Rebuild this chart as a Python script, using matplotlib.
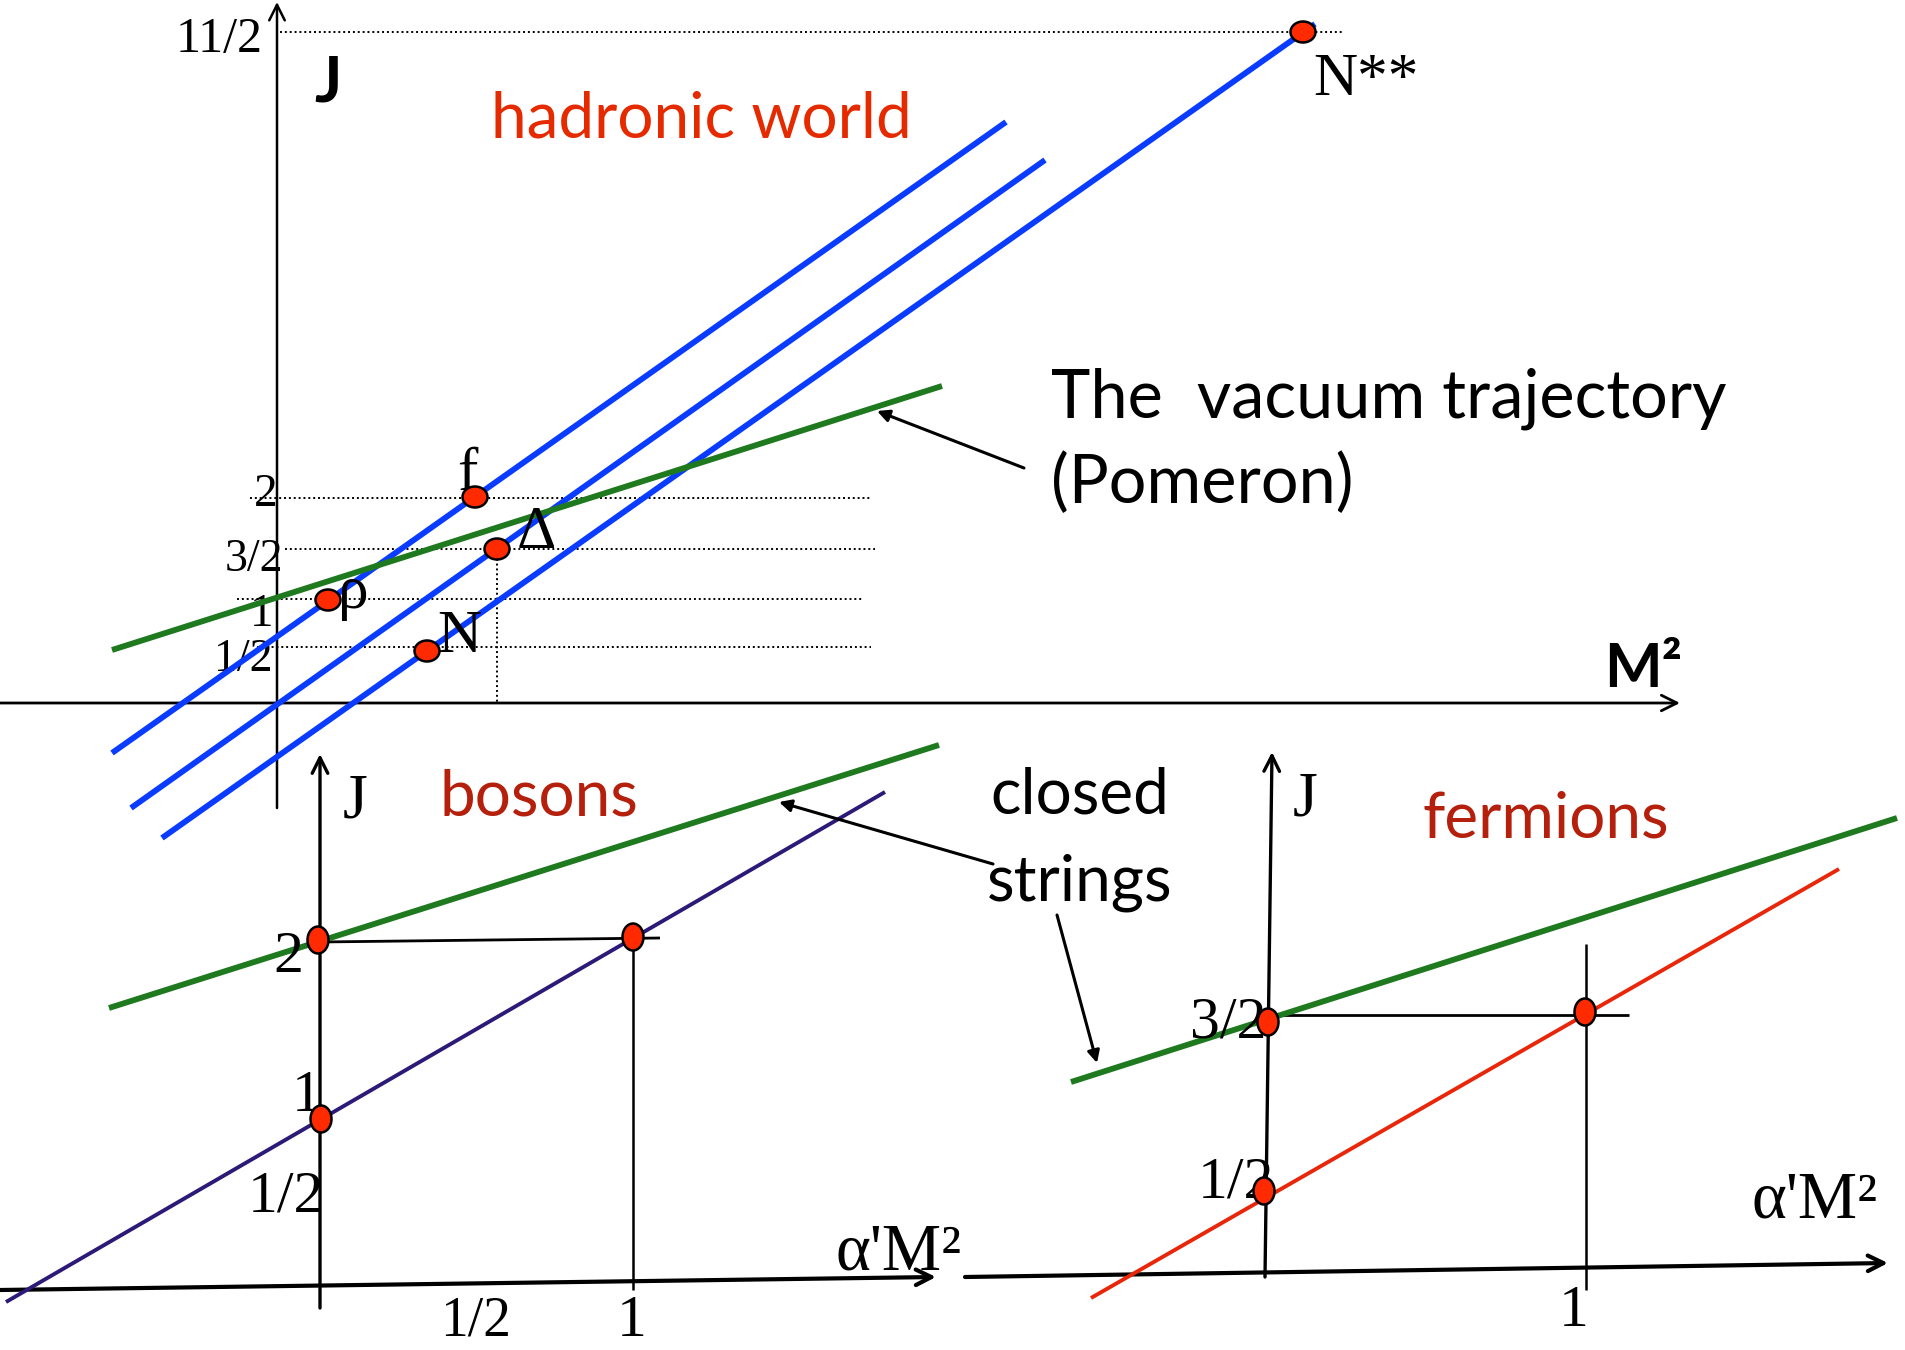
import matplotlib.pyplot as plt
from matplotlib.patches import Ellipse

SERIF = ['Liberation Serif', 'DejaVu Serif']
HAND = ['Lato', 'DejaVu Sans']   # stand-in for the comic hand font

# ---- top panel: hadronic world (sketch positions, pixels) ----
blue_start = [(112, 753), (131, 808), (162, 838)]
blue_end = [(1006, 122), (1045, 160), (1315, 24)]
pomeron_top = [(112, 650), (942, 386)]

level_labels = ['11/2', '2', '3/2', '1', '1/2']
level_y = [32, 498, 549, 599, 647]
level_x0 = [280, 250, 285, 237, 257]
level_x1 = [1343, 872, 875, 863, 871]
level_lab_x = [219, 266, 254, 262, 243]
level_lab_y = [52, 506, 571, 626, 671]
level_lab_size = [36, 34, 33, 34, 33]

hadron_names = ['ρ', 'f', 'Δ', 'N', 'N**']
hadron_x = [328, 475, 497, 427, 1303]
hadron_y = [600, 497, 549, 651, 32]
hadron_lab_x = [338, 457, 517, 437, 1313]
hadron_lab_y = [608, 490, 548, 652, 95]

# ---- bottom left: bosons ----
boson_green = [(109, 1008), (939, 745)]
boson_line = [(6, 1302), (885, 792)]
boson_x = [318, 633, 321]
boson_y = [940, 937, 1119]
boson_labels = ['2', '1', '1/2', '1/2', '1']
boson_lab_x = [288, 307, 286, 476, 632]
boson_lab_y = [972, 1111, 1212, 1336, 1336]
boson_lab_size = [43, 43, 43, 40, 43]

# ---- bottom right: fermions ----
fermion_green = [(1071, 1082), (1897, 818)]
fermion_line = [(1091, 1298), (1839, 869)]
fermion_x = [1268, 1585, 1264]
fermion_y = [1022, 1012, 1191]
fermion_labels = ['3/2', '1/2', '1']
fermion_lab_x = [1228, 1236, 1574]
fermion_lab_y = [1037, 1198, 1326]

BLUE = '#0a3cff'
GREEN = '#1f7a1f'
PURPLE = '#2d1a78'
RED = '#e8260a'
DOT = '#ff2a00'

fig = plt.figure(figsize=(19.05, 13.5), dpi=100)
ax = fig.add_axes([0, 0, 1, 1])
ax.set_xlim(0, 1905)
ax.set_ylim(1350, 0)
ax.axis('off')


def seg(p, q, color='black', lw=1.5, ls='-', z=2):
    ax.plot([p[0], q[0]], [p[1], q[1]], color=color, lw=lw, ls=ls,
            solid_capstyle='butt', zorder=z)


def arrow(tail, head, lw=1.5, style='->', ms=28):
    ax.annotate('', xy=head, xytext=tail,
                arrowprops=dict(arrowstyle=style, lw=lw, color='black',
                                shrinkA=0, shrinkB=0, mutation_scale=ms))


def dots(xs, ys, w, h):
    for x, y in zip(xs, ys):
        ax.add_patch(Ellipse((x, y), w, h, facecolor=DOT, edgecolor='black',
                             lw=1.8, zorder=5))


# top axes
arrow((277, 808), (277, 2), lw=1.8)
arrow((0, 703), (1680, 703), lw=2.0)
for y, x0, x1 in zip(level_y, level_x0, level_x1):
    seg((x0, y), (x1, y), lw=1.4, ls=(0, (1, 1.5)))
seg((497, 549), (497, 703), lw=1.4, ls=(0, (1, 1.5)))
for lab, x, y, s in zip(level_labels, level_lab_x, level_lab_y, level_lab_size):
    ax.text(x, y, lab, family=SERIF, fontsize=s, ha='center', va='baseline')

for p, q in zip(blue_start, blue_end):
    seg(p, q, BLUE, lw=4.2, z=3)
seg(pomeron_top[0], pomeron_top[1], GREEN, lw=4.2, z=3)
dots(hadron_x, hadron_y, 25, 21)
for lab, x, y in zip(hadron_names, hadron_lab_x, hadron_lab_y):
    ax.text(x, y, lab, family=SERIF, fontsize=44, ha='left', va='baseline')

ax.text(328, 102, 'J', family=HAND, fontsize=46, weight='bold', ha='center', va='baseline')
ax.text(701, 137, 'hadronic world', family=HAND, fontsize=46, color='#e52a00',
        ha='center', va='baseline')
ax.text(1604, 687, 'M²', family=HAND, fontsize=44, weight='bold', ha='left', va='baseline')
ax.text(1051, 417, 'The  vacuum trajectory', family=HAND, fontsize=48, ha='left', va='baseline')
ax.text(1051, 503, '(Pomeron)', family=HAND, fontsize=48, ha='left', va='baseline')
arrow((1024, 468), (877, 411), lw=2.2, style='-|>', ms=18)

# bottom left: bosons
arrow((320, 1308), (320, 754), lw=2.4)
arrow((0, 1290), (936, 1277), lw=3.0)
seg((633, 937), (633, 1290), lw=1.8)
seg((320, 942), (660, 938), lw=2.0)
seg(boson_green[0], boson_green[1], GREEN, lw=4.2, z=3)
seg(boson_line[0], boson_line[1], PURPLE, lw=2.8, z=3)
dots(boson_x, boson_y, 21, 27)
for lab, x, y, s in zip(boson_labels, boson_lab_x, boson_lab_y, boson_lab_size):
    ax.text(x, y, lab, family=SERIF, fontsize=s, ha='center', va='baseline')
ax.text(355, 818, 'J', family=SERIF, fontsize=46, ha='center', va='baseline')
ax.text(836, 1270, "α'M²", family=SERIF, fontsize=48, ha='left', va='baseline')
ax.text(539, 816, 'bosons', family=HAND, fontsize=46, color='#b5200d',
        ha='center', va='baseline')

# closed strings labels and arrows
ax.text(990, 814, 'closed', family=HAND, fontsize=46, ha='left', va='baseline')
ax.text(987, 901, 'strings', family=HAND, fontsize=46, ha='left', va='baseline')
arrow((993, 864), (779, 802), lw=2.2, style='-|>', ms=18)
arrow((1057, 915), (1097, 1063), lw=2.2, style='-|>', ms=18)

# bottom right: fermions
arrow((1265, 1277), (1272, 752), lw=2.4)
arrow((965, 1277), (1888, 1263), lw=3.0)
seg((1586, 944), (1586, 1290), lw=1.8)
seg((1268, 1015), (1629, 1015), lw=2.0)
seg(fermion_green[0], fermion_green[1], GREEN, lw=4.2, z=3)
seg(fermion_line[0], fermion_line[1], RED, lw=2.8, z=3)
dots(fermion_x, fermion_y, 21, 27)
for lab, x, y in zip(fermion_labels, fermion_lab_x, fermion_lab_y):
    ax.text(x, y, lab, family=SERIF, fontsize=43, ha='center', va='baseline')
ax.text(1305, 815, 'J', family=SERIF, fontsize=46, ha='center', va='baseline')
ax.text(1751, 1217, "α'M²", family=SERIF, fontsize=48, ha='left', va='baseline')
ax.text(1546, 837, 'fermions', family=HAND, fontsize=46, color='#b5200d',
        ha='center', va='baseline')

fig.savefig('out.png', dpi=100)
